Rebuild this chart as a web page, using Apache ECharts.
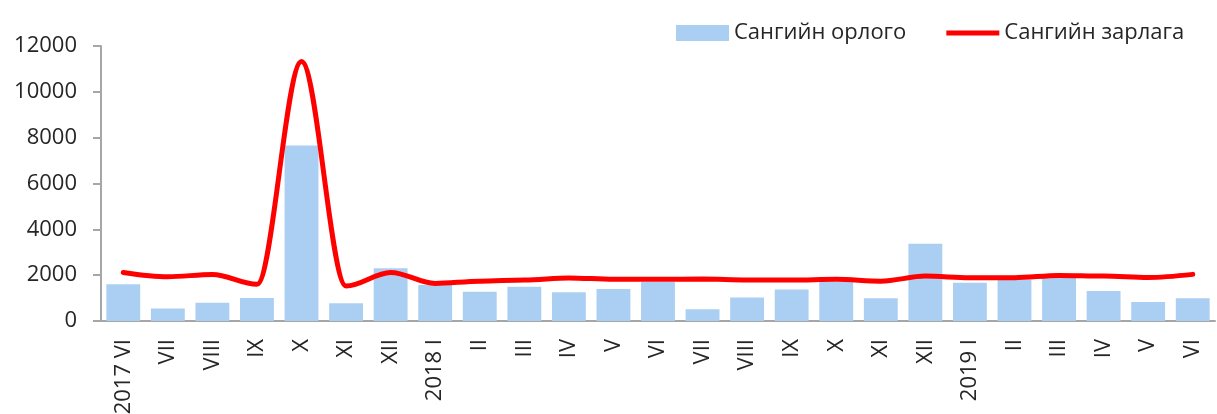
<!DOCTYPE html>
<html>
<head>
<meta charset="utf-8">
<script src="https://cdn.jsdelivr.net/npm/echarts@6/dist/echarts.min.js"></script>
<style>
	html, body { margin: 0; padding: 0; background: #fff; }
	#chart { width: 1217px; height: 414px; }
</style>
</head>
<body>
<div id="chart"></div>
<script>
// сар бүрийн ангилал
var months = ['2017 VI', 'VII', 'VIII', 'IX', 'X', 'XI', 'XII',
	'2018 I', 'II', 'III', 'IV', 'V', 'VI', 'VII', 'VIII', 'IX', 'X', 'XI', 'XII',
	'2019 I', 'II', 'III', 'IV', 'V', 'VI'];
// Сангийн орлого (багана)
var income = [1600, 550, 800, 1000, 7660, 780, 2300,
	1570, 1280, 1500, 1250, 1400, 1700, 510, 1030, 1380, 1700, 990, 3370,
	1670, 1800, 1900, 1310, 830, 990];
// Сангийн зарлага (шугам)
var expense = [2120, 1930, 2030, 1600, 11320, 1530, 2120,
	1640, 1740, 1790, 1880, 1820, 1820, 1830, 1790, 1790, 1820, 1740, 1960,
	1890, 1890, 1990, 1960, 1900, 2035];
var yTicks = [0, 2000, 4000, 6000, 8000, 10000, 12000];

var font = '"Open Sans", "Noto Sans", sans-serif';

var option = {
	animation: false,
	textStyle: { fontFamily: font },
	legend: {
		left: 671,
		top: 17,
		itemGap: 40,
		itemWidth: 53,
		itemHeight: 16,
		textStyle: { fontSize: 22, color: '#262626', fontFamily: font },
		data: [
			{ name: 'Сангийн орлого', icon: 'rect' },
			// зөвхөн улаан зураас, тэмдэггүй
			{ name: 'Сангийн зарлага', icon: 'path://M0 0M53 16M0 5.5H53V10.5H0Z' }
		]
	},
	grid: {
		left: 101,
		right: 2,
		top: 46,
		bottom: 93,
		outerBoundsMode: 'none'
	},
	xAxis: {
		type: 'category',
		data: months,
		axisLine: { lineStyle: { color: '#a6a6a6', width: 2 } },
		axisTick: { show: false },
		axisLabel: {
			rotate: 90,
			interval: 0,
			margin: 18,
			fontSize: 22,
			color: '#262626',
			fontFamily: font
		}
	},
	yAxis: {
		type: 'value',
		min: yTicks[0],
		max: yTicks[yTicks.length - 1],
		interval: 2000,
		splitLine: { show: false },
		axisLine: { show: true, lineStyle: { color: '#a6a6a6', width: 2 } },
		axisTick: { show: true, length: 8, lineStyle: { color: '#a6a6a6', width: 2 } },
		axisLabel: {
			margin: 24,
			fontSize: 22,
			color: '#262626',
			fontFamily: font,
			formatter: function (v) { return String(v); }
		}
	},
	series: [{
		name: 'Сангийн орлого',
		type: 'bar',
		data: income,
		barCategoryGap: '24%',
		itemStyle: { color: '#aacff3' }
	}, {
		name: 'Сангийн зарлага',
		type: 'line',
		data: expense,
		smooth: 0.34,
		smoothMonotone: 'x',
		symbol: 'none',
		lineStyle: { color: '#ff0000', width: 5, cap: 'round' },
		itemStyle: { color: '#ff0000' }
	}]
};

var chart = echarts.init(document.getElementById('chart'));
chart.setOption(option);
</script>
</body>
</html>
